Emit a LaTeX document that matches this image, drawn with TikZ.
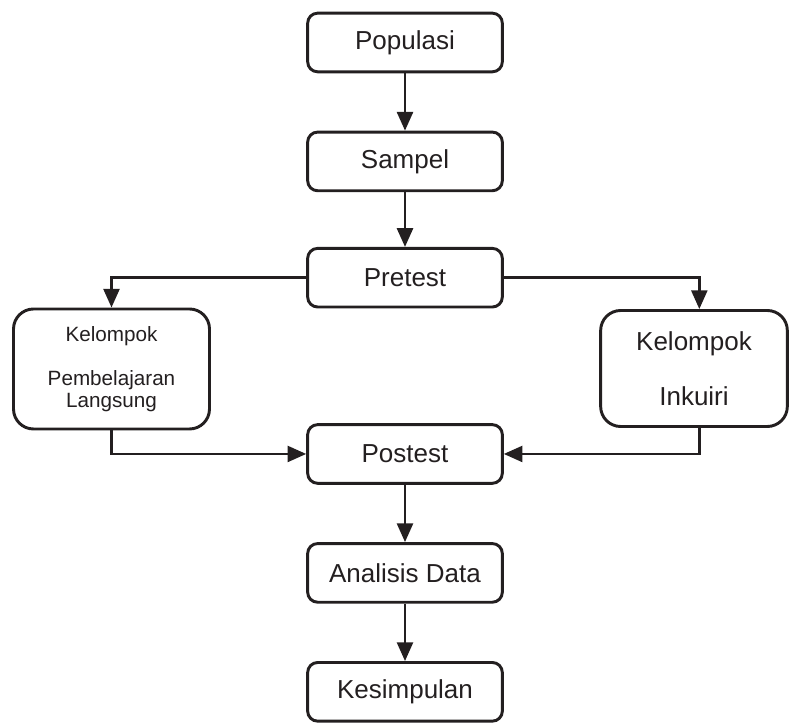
\documentclass[tikz,border=0pt]{standalone}
\usepackage{fontspec}
\setmainfont{Liberation Sans}
\usetikzlibrary{positioning,arrows.meta}
\definecolor{ink}{RGB}{35,31,32}

\begin{document}
\begin{tikzpicture}[x=0.75pt, y=0.75pt,
    stage/.style={draw=ink, line width=2.2pt, rounded corners=7.5pt,
      minimum width=146pt, minimum height=44pt, inner sep=0pt,
      text=ink, font=\fontsize{19.5}{22}\selectfont},
    group/.style={draw=ink, line width=2.2pt, rounded corners=15pt,
      inner sep=0pt, align=center, text=ink},
    flow/.style={draw=ink, line width=1.8pt,
      -{Triangle[length=14pt, width=12pt]}}]
  \useasboundingbox (0,0) rectangle (790,-723);

  % main column
  \node[stage] (populasi) at (405,-42.5) {Populasi};
  \node[stage, below=43pt of populasi] (sampel) {Sampel};
  \node[stage, below=41pt of sampel] (pretest) {Pretest};
  \node[stage, below=86pt of pretest] (postest) {Postest};
  \node[stage, below=43pt of postest] (analisis) {Analisis Data};
  \node[stage, below=43pt of analisis] (kesimpulan) {Kesimpulan};

  % the two groups
  \node[group, minimum width=147pt, minimum height=90pt,
    font=\fontsize{15.5}{16.5}\selectfont] (langsung) at (111.5,-369)
    {Kelompok\\[16.5pt]Pembelajaran\\Langsung};
  \node[group, minimum width=140pt, minimum height=87pt,
    font=\fontsize{19.5}{20.6}\selectfont] (inkuiri) at (694,-368.5)
    {Kelompok\\[20.6pt]Inkuiri};

  \draw[flow] (populasi) -- (sampel);
  \draw[flow] (sampel) -- (pretest);
  \draw[flow] (pretest.west) -| (langsung.north);
  \draw[flow] (pretest.east) -| ([xshift=4pt]inkuiri.north);
  \draw[flow] (langsung.south) |- (postest.west);
  \draw[flow] ([xshift=4pt]inkuiri.south) |- (postest.east);
  \draw[flow] (postest) -- (analisis);
  \draw[flow] (analisis) -- (kesimpulan);
\end{tikzpicture}
\end{document}
